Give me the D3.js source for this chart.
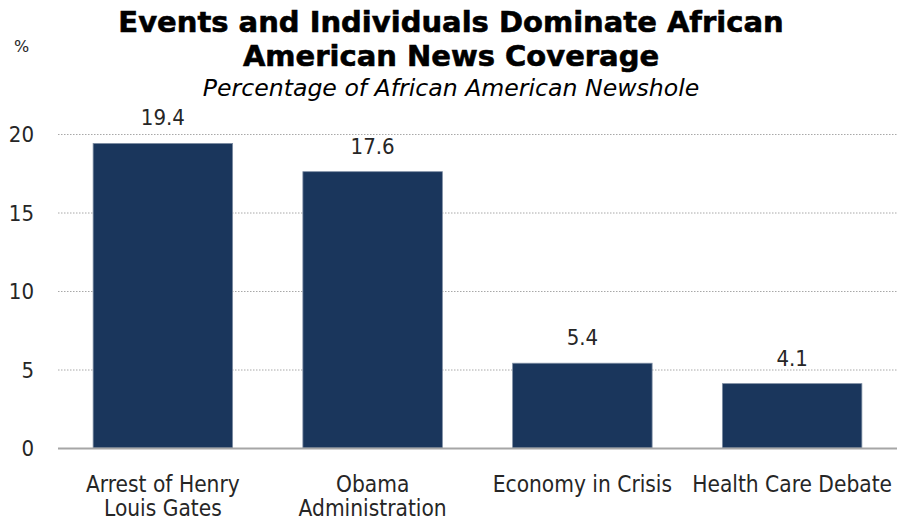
<!DOCTYPE html>
<html>
<head>
<meta charset="utf-8">
<script src="https://cdn.jsdelivr.net/npm/d3@7"></script>
<style>
  html, body { margin: 0; padding: 0; background: #fff; }
  svg { display: block; }
  .cond { font-family: "DejaVu Sans Condensed", "DejaVu Sans", sans-serif; }
</style>
</head>
<body>
<svg id="chart" width="898" height="523"></svg>
<script>
// Share of the African American newshole by story
const categories = ["Arrest of Henry\nLouis Gates", "Obama\nAdministration", "Economy in Crisis", "Health Care Debate"];
const values = [19.4, 17.6, 5.4, 4.1];
const yTicks = [0, 5, 10, 15, 20];

const titleLines = ["Events and Individuals Dominate African", "American News Coverage"];
const subtitle = "Percentage of African American Newshole";
const unitLabel = "%";

const W = 898, H = 523;
const plot = { left: 58, right: 897, top: 134, bottom: 448 };

const svg = d3.select("#chart");

const x = d3.scaleBand()
  .domain(categories)
  .range([plot.left, plot.right])
  .paddingInner(0.335)
  .paddingOuter(0.1675);

const y = d3.scaleLinear()
  .domain([0, 20])
  .range([plot.bottom, plot.top]);

// dotted gridlines
const grid = svg.append("g")
  .attr("transform", `translate(${plot.left},0)`)
  .call(d3.axisLeft(y).tickValues(yTicks.filter(t => t > 0)).tickSize(-(plot.right - plot.left)).tickFormat(""));
grid.select(".domain").remove();
grid.selectAll(".tick line")
  .attr("stroke", "#a8a8a8")
  .attr("stroke-width", 1)
  .attr("stroke-dasharray", "1.5,1.5");

// y axis labels
const yAxis = svg.append("g")
  .attr("transform", `translate(34,0)`)
  .call(d3.axisLeft(y).tickValues(yTicks).tickSize(0).tickPadding(0));
yAxis.select(".domain").remove();
yAxis.selectAll(".tick text")
  .attr("class", "cond")
  .attr("font-size", 22)
  .attr("fill", "#262626")
  .attr("dy", "0.36em");

// bars
svg.append("g")
  .selectAll("rect")
  .data(values)
  .join("rect")
  .attr("x", (d, i) => x(categories[i]))
  .attr("y", d => y(d))
  .attr("width", x.bandwidth())
  .attr("height", d => y(0) - y(d))
  .attr("fill", "#1a365c")
  .attr("stroke", "#7d8da3")
  .attr("stroke-width", 0.8);

// baseline
svg.append("line")
  .attr("x1", plot.left).attr("x2", plot.right)
  .attr("y1", y(0) + 0.5).attr("y2", y(0) + 0.5)
  .attr("stroke", "#a6a6a6")
  .attr("stroke-width", 2);

// value labels
svg.append("g")
  .selectAll("text")
  .data(values)
  .join("text")
  .attr("class", "cond")
  .attr("x", (d, i) => x(categories[i]) + x.bandwidth() / 2)
  .attr("y", d => y(d) - 18)
  .attr("text-anchor", "middle")
  .attr("font-size", 22)
  .attr("fill", "#262626")
  .text(d => d.toFixed(1));

// category labels (one text per line)
const xAxis = svg.append("g")
  .attr("transform", `translate(0,${plot.bottom})`)
  .call(d3.axisBottom(x).tickSize(0).tickFormat(""));
xAxis.select(".domain").remove();
xAxis.selectAll(".tick").each(function(d) {
  const g = d3.select(this);
  d.split("\n").forEach((ln, i) => {
    g.append("text")
      .attr("class", "cond")
      .attr("text-anchor", "middle")
      .attr("font-size", 22.5)
      .attr("fill", "#262626")
      .attr("x", 0)
      .attr("y", 44 + i * 24)
      .text(ln);
  });
});

// unit label
svg.append("text")
  .attr("x", 21.5).attr("y", 52)
  .attr("text-anchor", "middle")
  .attr("font-family", "DejaVu Sans, sans-serif")
  .attr("font-size", 16)
  .attr("fill", "#262626")
  .text(unitLabel);

// title
svg.append("g")
  .selectAll("text")
  .data(titleLines)
  .join("text")
  .attr("x", 451)
  .attr("y", (d, i) => 32 + i * 34)
  .attr("text-anchor", "middle")
  .attr("font-family", "DejaVu Sans, sans-serif")
  .attr("font-weight", "bold")
  .attr("font-size", 29)
  .attr("fill", "#000")
  .attr("stroke", "#000")
  .attr("stroke-width", 0.6)
  .text(d => d);

svg.append("text")
  .attr("x", 451).attr("y", 96)
  .attr("text-anchor", "middle")
  .attr("font-family", "DejaVu Sans, sans-serif")
  .attr("font-style", "italic")
  .attr("font-size", 23.6)
  .attr("fill", "#000")
  .text(subtitle);
</script>
</body>
</html>
